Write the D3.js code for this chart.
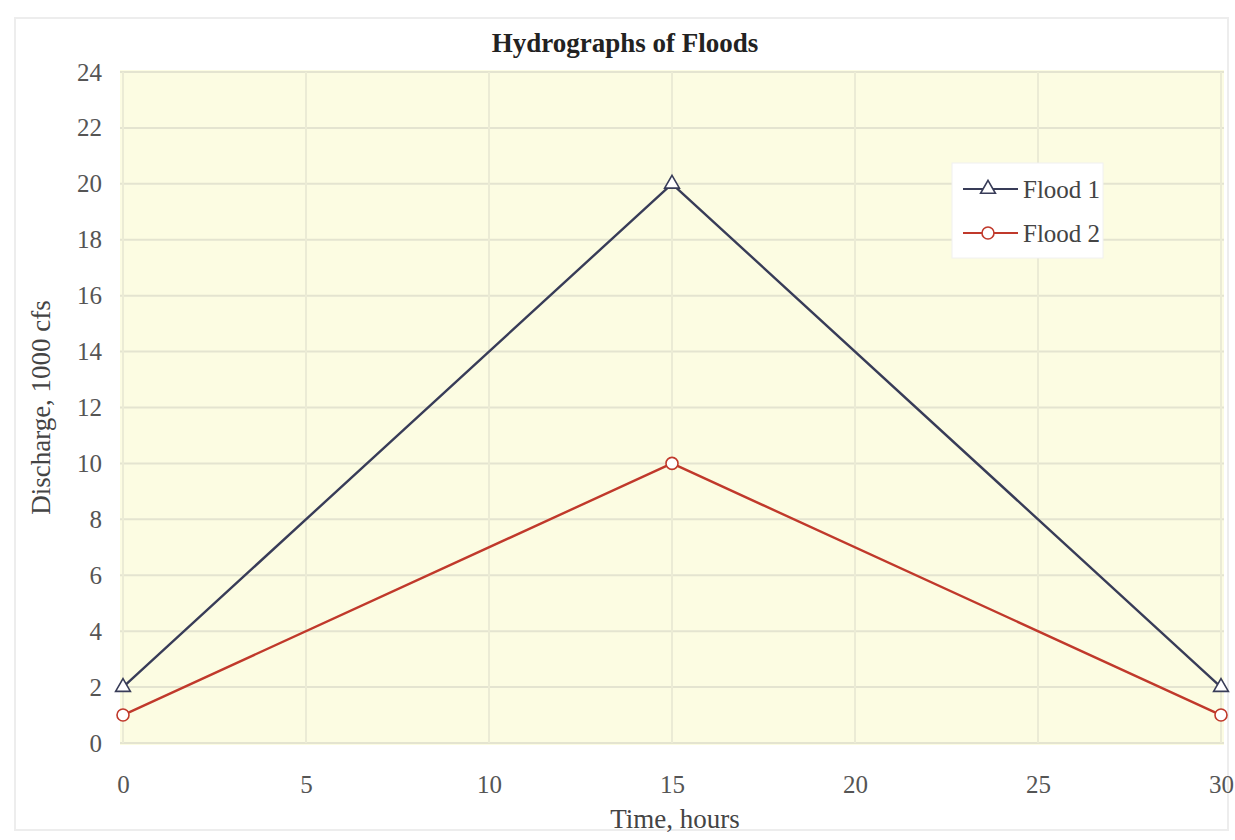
<!DOCTYPE html>
<html><head><meta charset="utf-8">
<script src="https://cdn.jsdelivr.net/npm/d3@7"></script>
<style>
html,body{margin:0;padding:0;background:#fff;}
svg{display:block;}
text{font-family:"Liberation Serif","DejaVu Serif",serif;}
</style></head>
<body>
<svg id="chart" width="1235" height="840"></svg>
<script>
const timeHours = [0, 15, 30];
const flood1 = [2, 20, 2];
const flood2 = [1, 10, 1];
const seriesNames = ["Flood 1", "Flood 2"];
const xTicks = [0, 5, 10, 15, 20, 25, 30];
const yTicks = [0, 2, 4, 6, 8, 10, 12, 14, 16, 18, 20, 22, 24];
const titleText = "Hydrographs of Floods";
const xLabel = "Time, hours";
const yLabel = "Discharge, 1000 cfs";

const svg = d3.select("#chart");
const W = 1235, H = 840;
const m = {left: 123, right: 14, top: 72, bottom: 97};

svg.append("rect").attr("x", 15).attr("y", 18).attr("width", W - 22).attr("height", H - 28)
  .attr("fill", "#fff").attr("stroke", "#ededed").attr("stroke-width", 2);

const x = d3.scaleLinear().domain([0, 30]).range([m.left, W - m.right]);
const y = d3.scaleLinear().domain([0, 24]).range([H - m.bottom, m.top]);

// plot background
svg.append("rect").attr("x", x(0) - 3).attr("y", y(24) - 2)
  .attr("width", x(30) - x(0) + 6).attr("height", y(0) - y(24) + 4)
  .attr("fill", "#fcfce2");

// gridlines
svg.append("g").selectAll("line").data(yTicks).join("line")
  .attr("x1", x(0) - 3).attr("x2", x(30) + 3)
  .attr("y1", d => y(d)).attr("y2", d => y(d))
  .attr("stroke", "#e4e4d0").attr("stroke-width", 2);
svg.append("g").selectAll("line").data(xTicks).join("line")
  .attr("x1", d => x(d)).attr("x2", d => x(d))
  .attr("y1", y(24)).attr("y2", y(0))
  .attr("stroke", "#ebebd5").attr("stroke-width", 2);

// axes
const xAxis = svg.append("g").attr("transform", `translate(0,${y(0)})`)
  .call(d3.axisBottom(x).tickValues(xTicks).tickSize(0).tickPadding(32));
const yAxis = svg.append("g").attr("transform", `translate(${x(0)},0)`)
  .call(d3.axisLeft(y).tickValues(yTicks).tickSize(0).tickPadding(21));
[xAxis, yAxis].forEach(a => {
  a.select(".domain").remove();
  a.selectAll("text").attr("font-family", "Liberation Serif, serif").attr("font-size", 25).attr("fill", "#555");
});
xAxis.selectAll("text").attr("dy", "0.71em");

// title and labels
svg.append("text").attr("x", 625).attr("y", 52).attr("text-anchor", "middle")
  .attr("font-size", 27).attr("font-weight", "bold").attr("fill", "#222").text(titleText);
svg.append("text").attr("x", 675).attr("y", 828).attr("text-anchor", "middle")
  .attr("font-size", 27).attr("fill", "#444").text(xLabel);
svg.append("text").attr("transform", `translate(50,${(y(0) + y(24)) / 2}) rotate(-90)`)
  .attr("text-anchor", "middle").attr("font-size", 27).attr("fill", "#444").text(yLabel);

const series = [
  {name: seriesNames[0], values: flood1, color: "#383c58", marker: "triangle"},
  {name: seriesNames[1], values: flood2, color: "#c0392b", marker: "circle"}
];
const line = d3.line().x((d, i) => x(timeHours[i])).y(d => y(d));

function drawMarker(g, type, cx, cy, color) {
  if (type === "triangle") {
    g.append("path").attr("d", d3.symbol(d3.symbolTriangle, 95)())
      .attr("transform", `translate(${cx},${cy})`)
      .attr("fill", "#fff").attr("stroke", color).attr("stroke-width", 1.6);
  } else {
    g.append("circle").attr("cx", cx).attr("cy", cy).attr("r", 6)
      .attr("fill", "#fff").attr("stroke", color).attr("stroke-width", 1.6);
  }
}

series.forEach(s => {
  const g = svg.append("g");
  g.append("path").datum(s.values).attr("d", line)
    .attr("fill", "none").attr("stroke", s.color).attr("stroke-width", 2.4);
  s.values.forEach((v, i) => drawMarker(g, s.marker, x(timeHours[i]), y(v), s.color));
});

// legend
const lg = svg.append("g").attr("transform", "translate(952,163)");
lg.append("rect").attr("width", 151).attr("height", 95).attr("fill", "#fff").attr("stroke", "#f0f0f0");
series.forEach((s, i) => {
  const yy = 26 + i * 44;
  lg.append("line").attr("x1", 11).attr("x2", 66).attr("y1", yy).attr("y2", yy)
    .attr("stroke", s.color).attr("stroke-width", 2);
  drawMarker(lg, s.marker, 36, yy, s.color);
  lg.append("text").attr("x", 71).attr("y", yy).attr("dy", "0.35em")
    .attr("font-size", 25).attr("fill", "#444").text(s.name);
});
</script>
</body></html>
